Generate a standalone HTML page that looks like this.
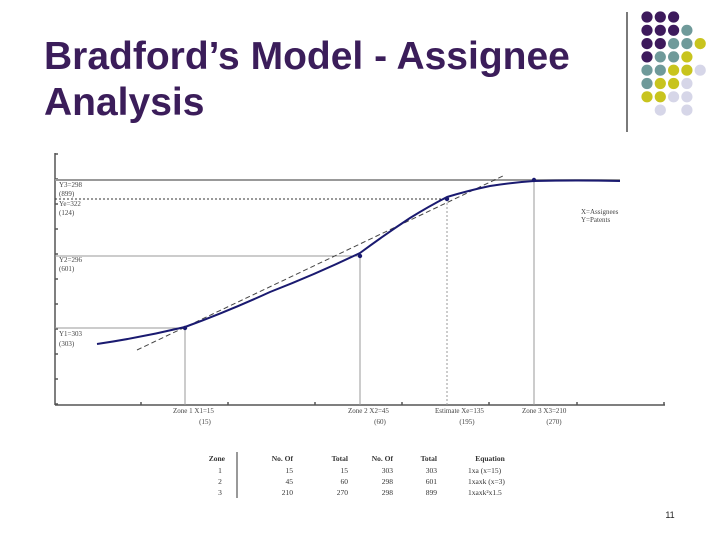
<!DOCTYPE html>
<html><head><meta charset="utf-8"><style>
body{margin:0;width:720px;height:540px;background:#fff;overflow:hidden;position:relative;font-family:"Liberation Sans",sans-serif}
#title{position:absolute;left:44px;top:34px;font-size:39px;font-weight:bold;color:#3b1d5a;line-height:46px}
svg{position:absolute;left:0;top:0}
</style></head><body>
<div id="title">Bradford’s Model - Assignee<br>Analysis</div>
<svg width="720" height="540" id="s"></svg>
<script>
const curveX=[42,130,215,305,355,392,435,479,565];
const curveY=[61,78,113,152,187,208,219,224,224];
const zoneX=[130,305,392,479];
const zoneY=[77,149,206,225];
const zoneLabels=["Zone 1  X1=15","Zone 2  X2=45","Estimate  Xe=135","Zone 3  X3=210"];
const zoneSub=["(15)","(60)","(195)","(270)"];
const yLabels=[["Y1=303","(303)"],["Y2=296","(601)"],["Ye=322","(124)"],["Y3=298","(899)"]];
const tangent=[[82,55],[450,230]];
const xTicks=[86,173,260,347,434,522,609];
const yTicks=[0,25,50,75,100,125,150,175,200,225,250];
const S=document.getElementById('s');const NS='http://www.w3.org/2000/svg';
const X=v=>55+v, Y=v=>405-v;
function el(t,a,p){const e=document.createElementNS(NS,t);for(const k in a)e.setAttribute(k,a[k]);(p||S).appendChild(e);return e;}
const cols=['#3d1a5c','#6f9a9a','#c8c41e','#d6d6e8'];
const grid=["000","0001","00112","0112","11223","1223","2233","-3-3"];
const g0=el('g',{});
grid.forEach((r,i)=>[...r].forEach((c,j)=>{if(c!='-')el('circle',{cx:647+j*13.3,cy:17+i*13.3,r:5.6,fill:cols[+c]},g0);}));
const vl=el('line',{x1:627,y1:12,x2:627,y2:132,stroke:'#222','stroke-width':1.2});

const ax=el('g',{stroke:'#555','stroke-width':1.5});
el('line',{x1:55,y1:153,x2:55,y2:405},ax);el('line',{x1:55,y1:405,x2:665,y2:405},ax);
yTicks.forEach(t=>el('line',{x1:55,y1:Y(t)-1,x2:58,y2:Y(t)-1},ax));
xTicks.forEach(t=>el('line',{x1:X(t),y1:402,x2:X(t),y2:405},ax));
const gg=el('g',{stroke:'#999','stroke-width':1});
zoneX.forEach((z,i)=>{const dash=i==2?'2,2':'';el('line',{x1:X(z),y1:Y(zoneY[i]),x2:X(z),y2:405,'stroke-dasharray':dash},gg);
 const xe=i==3?565:z;el('line',{x1:55,y1:Y(zoneY[i]),x2:X(xe),y2:Y(zoneY[i]),'stroke-dasharray':i==2?'2,2':'',stroke:i==2?'#333':'#999','stroke-width':i==3?2:1},gg);});
const tl=el('line',{x1:X(tangent[0][0]),y1:Y(tangent[0][1]),x2:X(tangent[1][0]),y2:Y(tangent[1][1]),stroke:'#444','stroke-dasharray':'5,3','stroke-width':1});

let d='M'+X(curveX[0])+','+Y(curveY[0]);
for(let i=1;i<curveX.length;i++){const x0=X(curveX[i-1]),y0=Y(curveY[i-1]),x1=X(curveX[i]),y1=Y(curveY[i]);d+=` Q${x0+(x1-x0)*0.5},${(y0+y1)/2+(i<4?2:-1)} ${x1},${y1}`;}
const cv=el('path',{d:d,fill:'none',stroke:'#1a1a70','stroke-width':2});

zoneX.forEach((z,i)=>{const c=el('circle',{cx:X(z),cy:Y(zoneY[i]),r:2.2,fill:'#1a1a70'});});
const tg=el('g',{'font-family':'Liberation Serif,serif','font-size':7,fill:'#444'});
const ypos=[[336,346],[262,271],[206,215],[187,196]];
yLabels.forEach((l,i)=>{el('text',{x:59,y:ypos[i][0]},tg).textContent=l[0];el('text',{x:59,y:ypos[i][1]},tg).textContent=l[1];});
zoneX.forEach((z,i)=>{const t=el('text',{x:X(z)-12,y:413,'text-anchor':'start'},tg);t.textContent=zoneLabels[i];
 const s=el('text',{x:X(z)+20,y:424,'text-anchor':'middle'},tg);s.textContent=zoneSub[i];});
el('text',{x:581,y:214},tg).textContent='X=Assignees';el('text',{x:581,y:222},tg).textContent='Y=Patents';
const tb=el('g',{'font-family':'Liberation Serif,serif','font-size':7.5,fill:'#333'});
el('line',{x1:237,y1:452,x2:237,y2:498,stroke:'#333'},tb);
const hdr=["Zone","No. Of","Total","No. Of","Total","Equation"],hx=[225,293,348,393,437,490];
hdr.forEach((h,i)=>el('text',{x:hx[i],y:461,'text-anchor':i==5?'middle':'end','font-weight':'bold'},tb).textContent=h);
const rows=[["1","15","15","303","303","1xa (x=15)"],["2","45","60","298","601","1xaxk (x=3)"],["3","210","270","298","899","1xaxk²x1.5"]];
rows.forEach((r,j)=>r.forEach((c,i)=>el('text',{x:i==0?220:(i==5?468:hx[i]),y:473+j*11,'text-anchor':i==0?'middle':(i==5?'start':'end')},tb).textContent=c));
const pn=el('text',{x:670,y:518,'font-size':9,'text-anchor':'middle',fill:'#222'});pn.textContent='11';

</script>
</body></html>
